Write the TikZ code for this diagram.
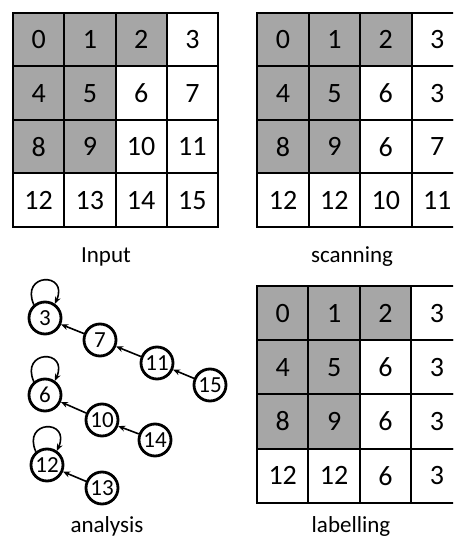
\documentclass[tikz,border=0pt]{standalone}
\usepackage{fontspec}
\setmainfont{Carlito}
\usetikzlibrary{arrows.meta}
\definecolor{cellgrey}{HTML}{A6A6A6}

% 4x4 grid of labelled cells: name prefix, left, top, cell width, cell height, rows
\newcommand\cellgrid[6]{%
  \foreach \rowvals [count=\rr from 0] in {#6} {
    \foreach \val [count=\cc from 0] in \rowvals {
      \pgfmathtruncatemacro\isgrey{((\rr<3) && (\cc<2)) || ((\rr==0) && (\cc==2))}
      \ifnum\isgrey=1 \def\cf{cellgrey}\else\def\cf{white}\fi
      \node[cell, fill=\cf, minimum width=#4pt, minimum height=#5pt]
        (#1-\rr-\cc) at (#2+\cc*#4, #3+\rr*#5) {\val};
    }
  }%
}

\begin{document}
\begin{tikzpicture}[x=1pt, y=-1pt,
  cell/.style={draw, line width=2pt, inner sep=0pt, outer sep=0pt,
    anchor=north west, font=\fontsize{28}{28}\selectfont},
  vert/.style={circle, draw, line width=2.8pt, minimum size=32pt, inner sep=0pt,
    font=\fontsize{23}{23}\selectfont},
  link/.style={line width=1.6pt, -{Stealth[length=7pt,width=6pt]}},
  lbl/.style={anchor=base, inner sep=0pt, font=\fontsize{23}{23}\selectfont}]
  \useasboundingbox (0,0) rectangle (453,537);
  \clip (0,0) rectangle (453,537);

  % grids
  \cellgrid{in}{13}{13}{51.25}{53.5}{{0,1,2,3},{4,5,6,7},{8,9,10,11},{12,13,14,15}}
  \cellgrid{sc}{257.3}{13}{51.4}{53.5}{{0,1,2,3},{4,5,6,3},{8,9,6,7},{12,12,10,11}}
  \cellgrid{lb}{257}{286}{51.4}{54.2}{{0,1,2,3},{4,5,6,3},{8,9,6,3},{12,12,6,3}}

  % captions
  \node[lbl] (t-input) at (106,262) {Input};
  \node[lbl] (t-scan)  at (352,262) {scanning};
  \node[lbl] (t-anal)  at (107,532) {analysis};
  \node[lbl] (t-lab)   at (351,532) {labelling};

  % equivalence trees
  \node[vert] (g3)  at (45,318)  {3};
  \node[vert] (g7)  at (100,340) {7};
  \node[vert] (g11) at (157,363) {11};
  \node[vert] (g15) at (210,385) {15};
  \node[vert] (g6)  at (45,395)  {6};
  \node[vert] (g10) at (102,420) {10};
  \node[vert] (g14) at (155,440) {14};
  \node[vert] (g12) at (47,465)  {12};
  \node[vert] (g13) at (102,488) {13};

  \draw[link] (g7)  -- (g3);
  \draw[link] (g11) -- (g7);
  \draw[link] (g15) -- (g11);
  \draw[link] (g10) -- (g6);
  \draw[link] (g14) -- (g10);
  \draw[link] (g13) -- (g12);

  \foreach \n in {g3,g6,g12}
    \draw[link] (\n.130) .. controls +(-14,-32) and +(14,-32) .. (\n.55);
\end{tikzpicture}
\end{document}
